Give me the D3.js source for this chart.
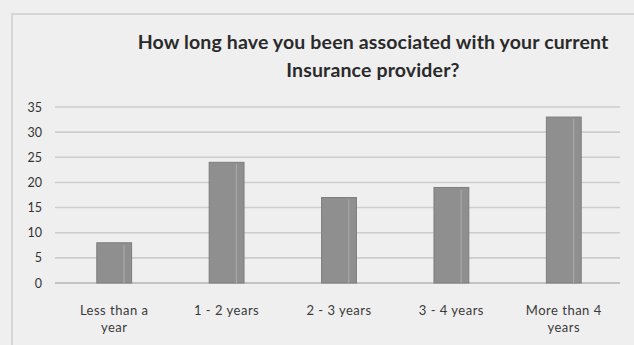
<!DOCTYPE html>
<html>
<head>
<meta charset="utf-8">
<script src="https://cdn.jsdelivr.net/npm/d3@7"></script>
<style>
  html, body { margin: 0; padding: 0; background: #efefef; }
  svg { display: block; }
</style>
</head>
<body>
<div id="chart"></div>
<script>
// Survey responses: length of association with current insurer
const categories = ["Less than a year", "1 - 2 years", "2 - 3 years", "3 - 4  years", "More than 4 years"];
const labelLines = [["Less than a", "year"], ["1 - 2 years"], ["2 - 3 years"], ["3 - 4  years"], ["More than 4", "years"]];
const values = [8, 24, 17, 19, 33];
const yTicks = [0, 5, 10, 15, 20, 25, 30, 35];
const titleLines = ["How long have you been associated with your current", "Insurance provider?"];

const W = 634, H = 345;
const margin = { left: 58, right: 14, top: 107, bottom: 62 };

const svg = d3.select("#chart").append("svg")
  .attr("width", W).attr("height", H);

svg.append("rect").attr("width", W).attr("height", H).attr("fill", "#efefef");

// chart frame
svg.append("path")
  .attr("d", `M12,${H} V14 H${W}`)
  .attr("fill", "none").attr("stroke", "#d6d6d6").attr("stroke-width", 2);

const x = d3.scaleBand()
  .domain(categories)
  .range([margin.left, W - margin.right])
  .paddingInner(0.69)
  .paddingOuter(0.345);

const y = d3.scaleLinear()
  .domain([0, 35])
  .range([H - margin.bottom, margin.top]);

// gridlines
svg.append("g")
  .selectAll("line")
  .data(yTicks)
  .join("line")
  .attr("x1", margin.left - 3)
  .attr("x2", W - margin.right)
  .attr("y1", d => y(d))
  .attr("y2", d => y(d))
  .attr("stroke", d => d === 0 ? "#b4b4b4" : "#cdcdcd")
  .attr("stroke-width", 1.6);

// y axis labels
const yAxis = d3.axisLeft(y).tickValues(yTicks).tickSize(0).tickPadding(0);
const ya = svg.append("g")
  .attr("transform", `translate(${margin.left - 16},0)`)
  .call(yAxis);
ya.select(".domain").remove();
ya.selectAll("text")
  .attr("font-family", "Lato, 'Open Sans', sans-serif")
  .attr("font-size", 12.5)
  .attr("fill", "#333");

// bars
const bars = svg.append("g");
bars.selectAll("rect")
  .data(values)
  .join("rect")
  .attr("x", (d, i) => x(categories[i]))
  .attr("width", x.bandwidth())
  .attr("y", d => y(d))
  .attr("height", d => y(0) - y(d))
  .attr("fill", "#8f8f8f")
  .attr("stroke", "#7d7d7d")
  .attr("stroke-width", 1);

// light vertical streak inside each bar
bars.selectAll("line")
  .data(values)
  .join("line")
  .attr("x1", (d, i) => x(categories[i]) + x.bandwidth() * 0.78)
  .attr("x2", (d, i) => x(categories[i]) + x.bandwidth() * 0.78)
  .attr("y1", d => y(d) + 2)
  .attr("y2", y(0))
  .attr("stroke", "#a8a8a8")
  .attr("stroke-width", 1.2);

// category labels
const xl = svg.append("g");
labelLines.forEach((lines, i) => {
  const cx = x(categories[i]) + x.bandwidth() / 2;
  const t = xl.append("text")
    .attr("x", cx)
    .attr("y", 315)
    .attr("text-anchor", "middle")
    .attr("font-family", "Lato, 'Open Sans', sans-serif")
    .attr("font-size", 13)
    .attr("letter-spacing", 0.5)
    .attr("fill", "#3a3a3a");
  lines.forEach((ln, j) => {
    t.append("tspan").attr("x", cx).attr("dy", j === 0 ? 0 : 17).text(ln);
  });
});

// title, two centred bold lines
const title = svg.append("g");
const titleY = [49, 77];
titleLines.forEach((ln, i) => {
  title.append("text")
    .attr("x", 373)
    .attr("y", titleY[i])
    .attr("text-anchor", "middle")
    .attr("font-family", "Lato, 'Open Sans', sans-serif")
    .attr("font-weight", "bold")
    .attr("font-size", 19.5)
    .attr("letter-spacing", 0.15)
    .attr("fill", "#2a2a2a")
    .text(ln);
});
</script>
</body>
</html>
